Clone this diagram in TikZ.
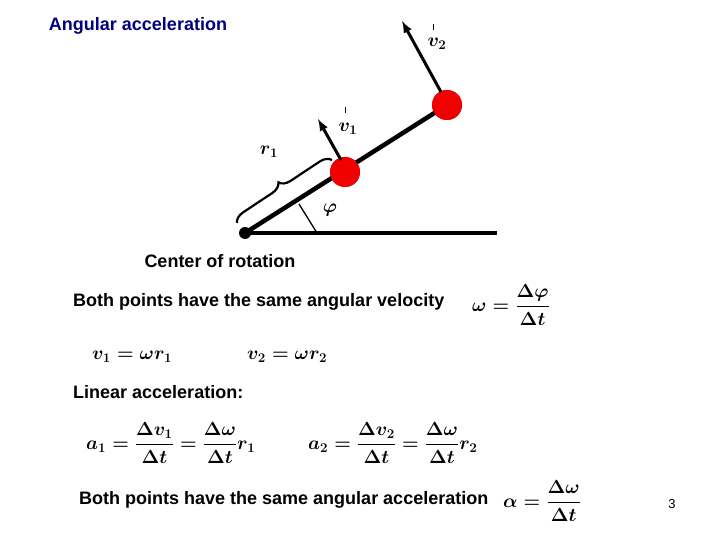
\RequirePackage{fix-cm}
\documentclass[tikz,border=0pt]{standalone}
\usepackage{fontspec}
\setmainfont{Liberation Sans}
\usepackage{amsmath}
\usepackage{amssymb}
\usepackage{xcolor}
\usetikzlibrary{decorations.pathreplacing}
\definecolor{navy}{RGB}{0,0,128}
\definecolor{ballred}{RGB}{240,0,0}

\begin{document}
\begin{tikzpicture}[x=1pt,y=-1pt]
		\tikzstyle{every node}+=[inner sep=0pt]
		\tikzstyle{txt}=[font=\fontsize{18}{21}\selectfont\bfseries, anchor=west]
		\tikzstyle{eq}=[font=\fontsize{19}{22}\selectfont\boldmath]
		\tikzstyle{ball}=[circle, fill=ballred, minimum size=30pt]
		\useasboundingbox (0,0) rectangle (720,540);
		% rotating rod with two points
		\coordinate (o) at (245,233);
		\coordinate (h) at (497,233);
		\node [ball] (b1) at (345,172) {};
		\node [ball] (b2) at (447,105) {};
		\draw [line width=4.5pt] (o) -- (b2.center);
		\draw [line width=3.5pt] (o) -- (h);
		\fill (o) circle (6);
		\node [ball] at (345,172) {};
		\node [ball] at (447,105) {};
		% angle mark
		\coordinate (m1) at (299,204);
		\coordinate (m2) at (317,233);
		\draw [line width=1.3pt] (m1) -- (m2);
		\draw (330,210) node [eq] {$\varphi$};
		% velocities
		\coordinate (v1) at (318,119);
		\coordinate (v2) at (402,21);
		\draw [line width=3pt, -latex] (341,160) -- (v1);
		\draw [line width=3pt, -latex] (441,92) -- (v2);
		\draw (348,129) node [eq] {$v_1$};
		\draw (437,44) node [eq] {$v_2$};
		\draw [line width=1pt] (345,107) -- (345,113);
		\draw [line width=1pt] (433,24) -- (433,30);
		% distance r1
		\draw [line width=2.2pt, decorate, decoration={brace, amplitude=11pt}] (237,223) -- (332,160);
		\draw (269,152) node [eq] {$r_1$};
		% texts
		\draw (138,26) node [font=\fontsize{18}{21}\selectfont\bfseries, text=navy] {Angular acceleration};
		\draw (220,261) node [font=\fontsize{18}{21}\selectfont\bfseries] {Center of rotation};
		\draw (73,302) node [txt] {Both points have the same angular velocity};
		\draw (511,305) node [eq] {$\omega=\dfrac{\Delta\varphi}{\Delta t}$};
		\draw (92,357) node [eq, anchor=west] {$v_1=\omega r_1$};
		\draw (247,357) node [eq, anchor=west] {$v_2=\omega r_2$};
		\draw (73,392) node [txt] {Linear acceleration:};
		\draw (86,443) node [eq, anchor=west] {$a_1=\dfrac{\Delta v_1}{\Delta t}=\dfrac{\Delta\omega}{\Delta t}r_1$};
		\draw (308,443) node [eq, anchor=west] {$a_2=\dfrac{\Delta v_2}{\Delta t}=\dfrac{\Delta\omega}{\Delta t}r_2$};
		\draw (79,500) node [txt] {Both points have the same angular acceleration};
		\draw (542,501) node [eq] {$\alpha=\dfrac{\Delta\omega}{\Delta t}$};
		\draw (672,504) node [font=\fontsize{13}{15}\selectfont] {3};
	\end{tikzpicture}
\end{document}
